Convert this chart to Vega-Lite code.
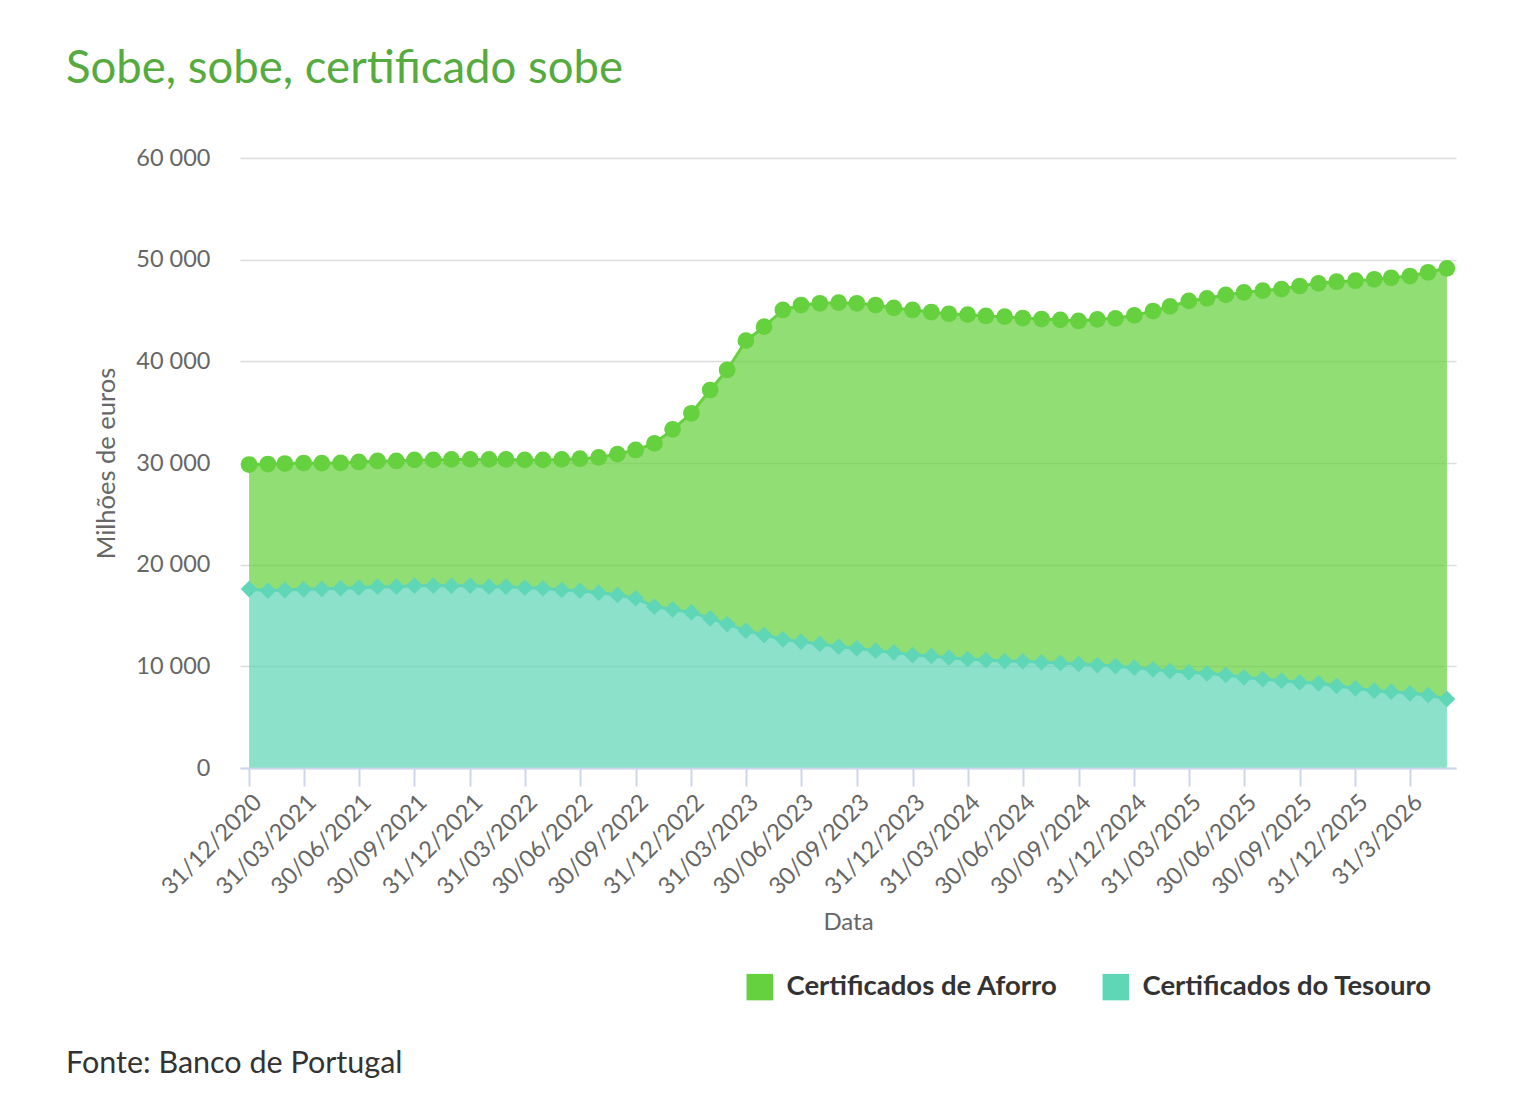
{
  "$schema": "https://vega.github.io/schema/vega-lite/v6.json",
  "width": 1216,
  "height": 610,
  "autosize": {"type": "none"},
  "padding": {"left": 240, "top": 158, "right": 62, "bottom": 340},
  "background": "white",
  "config": {"font": "Lato", "view": {"stroke": null}},
  "title": {
    "text": "Sobe, sobe, certificado sobe",
    "anchor": "start",
    "frame": "group",
    "dx": -174,
    "offset": 54,
    "fontSize": 45.5,
    "font": "Lato",
    "fontWeight": "normal",
    "color": "#55ab3d"
  },
  "layer": [
    {
      "data": {
        "values": [
          {"data": "2020-12-31", "Certificados de Aforro": 12250, "Certificados do Tesouro": 17600},
          {"data": "2021-01-31", "Certificados de Aforro": 12450, "Certificados do Tesouro": 17450},
          {"data": "2021-02-28", "Certificados de Aforro": 12450, "Certificados do Tesouro": 17500},
          {"data": "2021-03-31", "Certificados de Aforro": 12420, "Certificados do Tesouro": 17580},
          {"data": "2021-04-30", "Certificados de Aforro": 12370, "Certificados do Tesouro": 17610},
          {"data": "2021-05-31", "Certificados de Aforro": 12350, "Certificados do Tesouro": 17670},
          {"data": "2021-06-30", "Certificados de Aforro": 12360, "Certificados do Tesouro": 17740},
          {"data": "2021-07-31", "Certificados de Aforro": 12370, "Certificados do Tesouro": 17830},
          {"data": "2021-08-31", "Certificados de Aforro": 12370, "Certificados do Tesouro": 17830},
          {"data": "2021-09-30", "Certificados de Aforro": 12370, "Certificados do Tesouro": 17930},
          {"data": "2021-10-31", "Certificados de Aforro": 12370, "Certificados do Tesouro": 17930},
          {"data": "2021-11-30", "Certificados de Aforro": 12420, "Certificados do Tesouro": 17930},
          {"data": "2021-12-31", "Certificados de Aforro": 12420, "Certificados do Tesouro": 17930},
          {"data": "2022-01-31", "Certificados de Aforro": 12520, "Certificados do Tesouro": 17830},
          {"data": "2022-02-28", "Certificados de Aforro": 12520, "Certificados do Tesouro": 17830},
          {"data": "2022-03-31", "Certificados de Aforro": 12560, "Certificados do Tesouro": 17740},
          {"data": "2022-04-30", "Certificados de Aforro": 12630, "Certificados do Tesouro": 17670},
          {"data": "2022-05-31", "Certificados de Aforro": 12840, "Certificados do Tesouro": 17510},
          {"data": "2022-06-30", "Certificados de Aforro": 12980, "Certificados do Tesouro": 17440},
          {"data": "2022-07-31", "Certificados de Aforro": 13310, "Certificados do Tesouro": 17240},
          {"data": "2022-08-31", "Certificados de Aforro": 13860, "Certificados do Tesouro": 17020},
          {"data": "2022-09-30", "Certificados de Aforro": 14590, "Certificados do Tesouro": 16690},
          {"data": "2022-10-31", "Certificados de Aforro": 16060, "Certificados do Tesouro": 15870},
          {"data": "2022-11-30", "Certificados de Aforro": 17710, "Certificados do Tesouro": 15600},
          {"data": "2022-12-31", "Certificados de Aforro": 19580, "Certificados do Tesouro": 15310},
          {"data": "2023-01-31", "Certificados de Aforro": 22460, "Certificados do Tesouro": 14720},
          {"data": "2023-02-28", "Certificados de Aforro": 24990, "Certificados do Tesouro": 14160},
          {"data": "2023-03-31", "Certificados de Aforro": 28520, "Certificados do Tesouro": 13510},
          {"data": "2023-04-30", "Certificados de Aforro": 30330, "Certificados do Tesouro": 13080},
          {"data": "2023-05-31", "Certificados de Aforro": 32390, "Certificados do Tesouro": 12660},
          {"data": "2023-06-30", "Certificados de Aforro": 33120, "Certificados do Tesouro": 12420},
          {"data": "2023-07-31", "Certificados de Aforro": 33510, "Certificados do Tesouro": 12200},
          {"data": "2023-08-31", "Certificados de Aforro": 33840, "Certificados do Tesouro": 11930},
          {"data": "2023-09-30", "Certificados de Aforro": 33940, "Certificados do Tesouro": 11770},
          {"data": "2023-10-31", "Certificados de Aforro": 34000, "Certificados do Tesouro": 11540},
          {"data": "2023-11-30", "Certificados de Aforro": 33870, "Certificados do Tesouro": 11380},
          {"data": "2023-12-31", "Certificados de Aforro": 33940, "Certificados do Tesouro": 11110},
          {"data": "2024-01-31", "Certificados de Aforro": 33830, "Certificados do Tesouro": 11020},
          {"data": "2024-02-29", "Certificados de Aforro": 33830, "Certificados do Tesouro": 10850},
          {"data": "2024-03-31", "Certificados de Aforro": 33870, "Certificados do Tesouro": 10720},
          {"data": "2024-04-30", "Certificados de Aforro": 33840, "Certificados do Tesouro": 10620},
          {"data": "2024-05-31", "Certificados de Aforro": 33870, "Certificados do Tesouro": 10520},
          {"data": "2024-06-30", "Certificados de Aforro": 33760, "Certificados do Tesouro": 10500},
          {"data": "2024-07-31", "Certificados de Aforro": 33760, "Certificados do Tesouro": 10400},
          {"data": "2024-08-31", "Certificados de Aforro": 33740, "Certificados do Tesouro": 10330},
          {"data": "2024-09-30", "Certificados de Aforro": 33740, "Certificados do Tesouro": 10230},
          {"data": "2024-10-31", "Certificados de Aforro": 34000, "Certificados do Tesouro": 10130},
          {"data": "2024-11-30", "Certificados de Aforro": 34200, "Certificados do Tesouro": 10030},
          {"data": "2024-12-31", "Certificados de Aforro": 34650, "Certificados do Tesouro": 9870},
          {"data": "2025-01-31", "Certificados de Aforro": 35240, "Certificados do Tesouro": 9710},
          {"data": "2025-02-28", "Certificados de Aforro": 35860, "Certificados do Tesouro": 9540},
          {"data": "2025-03-31", "Certificados de Aforro": 36530, "Certificados do Tesouro": 9410},
          {"data": "2025-04-30", "Certificados de Aforro": 36890, "Certificados do Tesouro": 9310},
          {"data": "2025-05-31", "Certificados de Aforro": 37380, "Certificados do Tesouro": 9150},
          {"data": "2025-06-30", "Certificados de Aforro": 37870, "Certificados do Tesouro": 8920},
          {"data": "2025-07-31", "Certificados de Aforro": 38200, "Certificados do Tesouro": 8750},
          {"data": "2025-08-31", "Certificados de Aforro": 38520, "Certificados do Tesouro": 8590},
          {"data": "2025-09-30", "Certificados de Aforro": 38980, "Certificados do Tesouro": 8430},
          {"data": "2025-10-31", "Certificados de Aforro": 39340, "Certificados do Tesouro": 8330},
          {"data": "2025-11-30", "Certificados de Aforro": 39760, "Certificados do Tesouro": 8070},
          {"data": "2025-12-31", "Certificados de Aforro": 40090, "Certificados do Tesouro": 7840},
          {"data": "2026-01-31", "Certificados de Aforro": 40470, "Certificados do Tesouro": 7600},
          {"data": "2026-02-28", "Certificados de Aforro": 40710, "Certificados do Tesouro": 7510},
          {"data": "2026-03-31", "Certificados de Aforro": 41040, "Certificados do Tesouro": 7350},
          {"data": "2026-04-30", "Certificados de Aforro": 41580, "Certificados do Tesouro": 7180},
          {"data": "2026-05-31", "Certificados de Aforro": 42360, "Certificados do Tesouro": 6790}
        ]
      },
      "transform": [
        {"fold": ["Certificados de Aforro", "Certificados do Tesouro"], "as": ["serie", "valor"]},
        {"stack": "valor", "groupby": ["data"], "sort": [{"field": "serie", "order": "descending"}], "as": ["base", "topo"]}
      ],
      "encoding": {
        "x": {
          "field": "data",
          "type": "temporal",
          "title": "Data",
          "scale": {
            "type": "utc",
            "nice": false,
            "domain": [
              {"year": 2020, "month": 12, "date": 16, "utc": true},
              {"year": 2026, "month": 6, "date": 15, "utc": true}
            ]
          },
          "axis": {
            "values": [
              {"year": 2020, "month": 12, "date": 31, "utc": true},
              {"year": 2021, "month": 3, "date": 31, "utc": true},
              {"year": 2021, "month": 6, "date": 30, "utc": true},
              {"year": 2021, "month": 9, "date": 30, "utc": true},
              {"year": 2021, "month": 12, "date": 31, "utc": true},
              {"year": 2022, "month": 3, "date": 31, "utc": true},
              {"year": 2022, "month": 6, "date": 30, "utc": true},
              {"year": 2022, "month": 9, "date": 30, "utc": true},
              {"year": 2022, "month": 12, "date": 31, "utc": true},
              {"year": 2023, "month": 3, "date": 31, "utc": true},
              {"year": 2023, "month": 6, "date": 30, "utc": true},
              {"year": 2023, "month": 9, "date": 30, "utc": true},
              {"year": 2023, "month": 12, "date": 31, "utc": true},
              {"year": 2024, "month": 3, "date": 31, "utc": true},
              {"year": 2024, "month": 6, "date": 30, "utc": true},
              {"year": 2024, "month": 9, "date": 30, "utc": true},
              {"year": 2024, "month": 12, "date": 31, "utc": true},
              {"year": 2025, "month": 3, "date": 31, "utc": true},
              {"year": 2025, "month": 6, "date": 30, "utc": true},
              {"year": 2025, "month": 9, "date": 30, "utc": true},
              {"year": 2025, "month": 12, "date": 31, "utc": true},
              {"year": 2026, "month": 3, "date": 31, "utc": true}
            ],
            "labelExpr": "utcFormat(datum.value, utcyear(datum.value) == 2026 ? '%d/%-m/%Y' : '%d/%m/%Y')",
            "labelAngle": -45,
            "labelFontSize": 23.5,
            "labelColor": "#666666",
            "labelFont": "Lato",
            "labelPadding": 4,
            "labelOverlap": false,
            "tickColor": "#ccd6eb",
            "tickWidth": 2,
            "tickSize": 18,
            "domainColor": "#ccd6eb",
            "domainWidth": 2,
            "grid": false,
            "titleFontSize": 24,
            "titleColor": "#666666",
            "titleFont": "Lato",
            "titleFontWeight": "normal",
            "titlePadding": 12,
            "zindex": 1
          }
        },
        "y": {
          "field": "topo",
          "type": "quantitative",
          "title": "Milhões de euros",
          "scale": {"domain": [0, 60000], "nice": false},
          "axis": {
            "values": [0, 10000, 20000, 30000, 40000, 50000, 60000],
            "labelExpr": "replace(format(datum.value, ','), ',', ' ')",
            "labelFontSize": 23.5,
            "labelColor": "#666666",
            "labelFont": "Lato",
            "labelPadding": 30,
            "domain": false,
            "ticks": false,
            "gridColor": "#dcdcdc",
            "gridWidth": 1.5,
            "titleFontSize": 25.5,
            "titleColor": "#666666",
            "titleFont": "Lato",
            "titleFontWeight": "normal",
            "titlePadding": 16
          }
        }
      },
      "layer": [
        {
          "mark": {"type": "area", "fillOpacity": 0.72},
          "encoding": {
            "y2": {"field": "base"},
            "color": {
              "field": "serie",
              "type": "nominal",
              "scale": {
                "domain": ["Certificados de Aforro", "Certificados do Tesouro"],
                "range": ["#66d13f", "#5fd6b5"]
              },
              "legend": {
                "orient": "none",
                "legendX": 506,
                "legendY": 815,
                "direction": "horizontal",
                "title": null,
                "symbolType": "square",
                "symbolSize": 700,
                "symbolOpacity": 1,
                "symbolFillOpacity": 1,
                "symbolStrokeWidth": 0,
                "labelFontSize": 27.5,
                "labelFontWeight": "bold",
                "labelColor": "#333333",
                "labelFont": "Lato",
                "labelLimit": 600,
                "labelOffset": 13,
                "columnPadding": 44
              }
            }
          }
        },
        {
          "mark": {"type": "line", "strokeWidth": 3},
          "encoding": {
            "stroke": {
              "field": "serie",
              "type": "nominal",
              "scale": {
                "domain": ["Certificados de Aforro", "Certificados do Tesouro"],
                "range": ["#66d13f", "#5fd6b5"]
              },
              "legend": null
            }
          }
        },
        {
          "transform": [{"filter": "datum.serie == 'Certificados de Aforro'"}],
          "mark": {"type": "point", "shape": "circle", "filled": true, "size": 280, "opacity": 1, "fill": "#66d13f"},
          "encoding": {}
        },
        {
          "transform": [{"filter": "datum.serie == 'Certificados do Tesouro'"}],
          "mark": {"type": "point", "shape": "diamond", "filled": true, "size": 280, "opacity": 1, "fill": "#5fd6b5"},
          "encoding": {}
        }
      ]
    },
    {
      "data": {"values": [{"fonte": "Fonte: Banco de Portugal"}]},
      "mark": {"type": "text", "align": "left", "baseline": "alphabetic", "fontSize": 30.5, "font": "Lato", "color": "#333333"},
      "encoding": {
        "text": {"field": "fonte", "type": "nominal"},
        "x": {"value": -174},
        "y": {"value": 915}
      }
    }
  ]
}
